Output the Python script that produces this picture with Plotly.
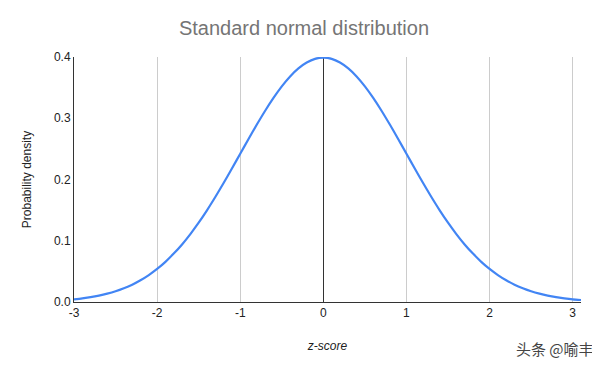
import plotly.graph_objects as go

z_score = [-3.0, -2.9, -2.8, -2.7, -2.6, -2.5, -2.4, -2.3, -2.2, -2.1, -2.0, -1.9, -1.8, -1.7, -1.6,
           -1.5, -1.4, -1.3, -1.2, -1.1, -1.0, -0.9, -0.8, -0.7, -0.6, -0.5, -0.4, -0.3, -0.2, -0.1,
           0.0, 0.1, 0.2, 0.3, 0.4, 0.5, 0.6, 0.7, 0.8, 0.9, 1.0, 1.1, 1.2, 1.3, 1.4, 1.5, 1.6, 1.7,
           1.8, 1.9, 2.0, 2.1, 2.2, 2.3, 2.4, 2.5, 2.6, 2.7, 2.8, 2.9, 3.0, 3.1]
density = [0.0044, 0.0060, 0.0079, 0.0104, 0.0136, 0.0175, 0.0224, 0.0283, 0.0355, 0.0440,
           0.0540, 0.0656, 0.0790, 0.0940, 0.1109, 0.1295, 0.1497, 0.1714, 0.1942, 0.2179,
           0.2420, 0.2661, 0.2897, 0.3123, 0.3332, 0.3521, 0.3683, 0.3814, 0.3910, 0.3970,
           0.3989, 0.3970, 0.3910, 0.3814, 0.3683, 0.3521, 0.3332, 0.3123, 0.2897, 0.2661,
           0.2420, 0.2179, 0.1942, 0.1714, 0.1497, 0.1295, 0.1109, 0.0940, 0.0790, 0.0656,
           0.0540, 0.0440, 0.0355, 0.0283, 0.0224, 0.0175, 0.0136, 0.0104, 0.0079, 0.0060,
           0.0044, 0.0033]
x_ticks = [-3, -2, -1, 0, 1, 2, 3]
y_ticks = [0.0, 0.1, 0.2, 0.3, 0.4]

fig = go.Figure()
fig.add_trace(go.Scatter(x=z_score, y=density, mode="lines",
                         line=dict(color="#4285F4", width=2.2, shape="spline", smoothing=0.8),
                         showlegend=False))

font_family = "Liberation Sans, Arial, sans-serif"
fig.update_layout(
    width=592, height=362,
    margin=dict(l=66, r=19, t=49, b=68),
    paper_bgcolor="white", plot_bgcolor="white",
    font=dict(family=font_family, size=12, color="#222"),
    title=dict(text="Standard normal distribution", x=0.5, xanchor="center",
               y=0.945, yanchor="middle",
               font=dict(family=font_family, size=20, color="#757575")),
    xaxis=dict(range=[-3, 3.1], tickvals=x_ticks, ticktext=[str(v) for v in x_ticks],
               showgrid=True, gridcolor="#cccccc", gridwidth=1,
               zeroline=True, zerolinecolor="#333333", zerolinewidth=1,
               showline=True, linecolor="#333333", linewidth=1,
               ticks="", ticklen=0,
               title=dict(text="<i>z-score</i>", standoff=22, font=dict(size=12, color="#222"))),
    yaxis=dict(range=[0, 0.4], tickvals=y_ticks, ticktext=[f"{v:.1f}" for v in y_ticks],
               showgrid=False, zeroline=False,
               showline=True, linecolor="#333333", linewidth=1,
               ticks="", ticklen=0,
               title=dict(text="Probability density", standoff=19, font=dict(size=12, color="#222"))),
    annotations=[dict(text="头条 @喻丰", xref="paper", yref="paper",
                      x=1.03, y=-0.19, xanchor="right", yanchor="middle", showarrow=False,
                      font=dict(family="Noto Sans CJK SC, sans-serif", size=15, color="#444"))],
)

fig.write_html("out.html")
